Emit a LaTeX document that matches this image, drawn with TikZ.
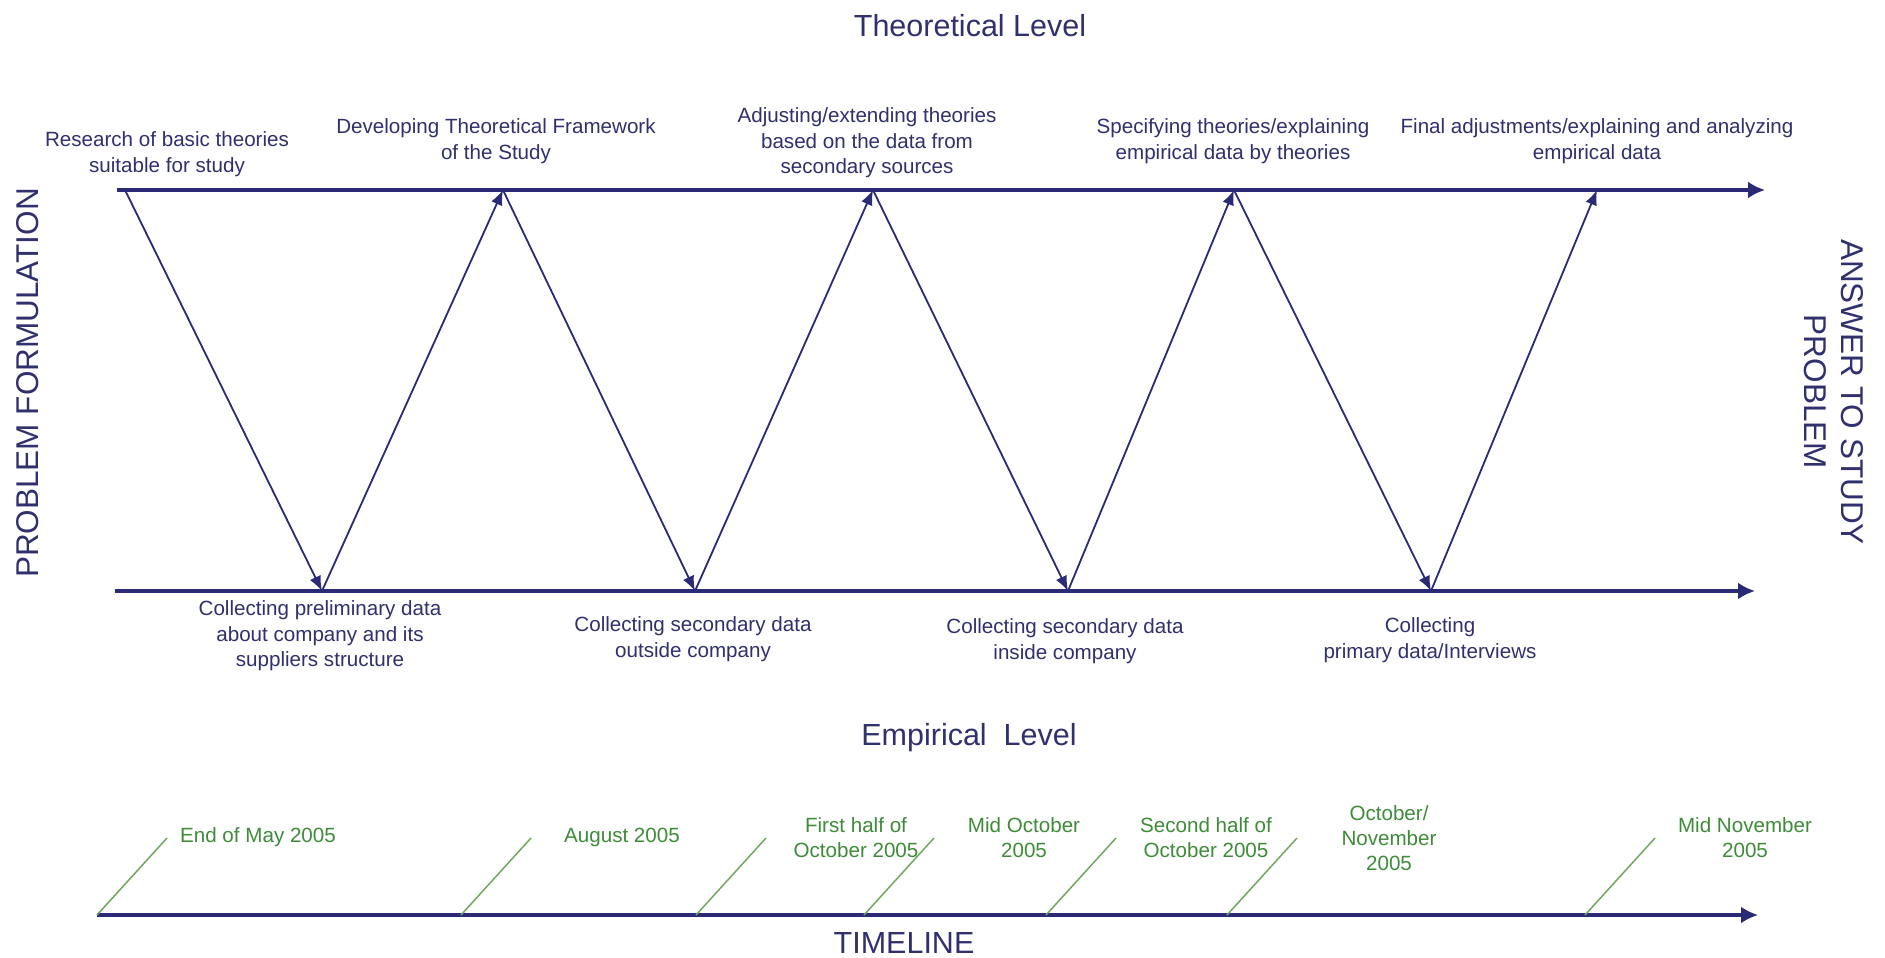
\documentclass[tikz,border=0pt]{standalone}
\usepackage{fontspec}
\setmainfont{Liberation Sans}
\usetikzlibrary{arrows.meta}
\definecolor{navy}{RGB}{42,42,118}
\definecolor{navytext}{RGB}{48,48,110}
\definecolor{leaf}{RGB}{62,140,58}
\definecolor{tick}{RGB}{112,168,92}
\tikzset{
  lbl/.style={inner sep=0pt, align=center, text=navytext,
    font=\fontsize{20.6}{25.5}\selectfont},
  datelbl/.style={inner sep=0pt, align=center, text=leaf,
    font=\fontsize{20.6}{25}\selectfont},
  heading/.style={inner sep=0pt, text=navytext,
    font=\fontsize{30.5}{36}\selectfont},
  sidelbl/.style={inner sep=0pt, align=center, text=navytext,
    font=\fontsize{31.5}{37}\selectfont},
  axis/.style={draw=navy, line width=3.2pt,
    -{Latex[length=17pt,width=17pt]}},
  zig/.style={draw=navy, line width=1.8pt,
    -{Latex[length=15pt,width=12pt]}},
  tickmark/.style={draw=tick, line width=1.5pt},
}
\begin{document}
\begin{tikzpicture}[x=1pt,y=-1pt]
\useasboundingbox[fill=white] (0,0) rectangle (1885,958);

% level headings and side captions
\node[heading] (theo) at (970,26) {Theoretical Level};
\node[heading] (emp) at (969,738) {Empirical\ \ Level};
\node[heading] (tl) at (904,943) {TIMELINE};
\node[sidelbl, rotate=90] (pf) at (28,383) {PROBLEM FORMULATION};
\node[sidelbl, rotate=-90] (ans) at (1834,392) {ANSWER TO STUDY\\PROBLEM};

% theoretical and empirical axes
\coordinate (topA) at (117,190);
\coordinate (topB) at (1765,190);
\coordinate (botA) at (115,591);
\coordinate (botB) at (1755,591);
\draw[axis] (topA) -- (topB);
\draw[axis] (botA) -- (botB);

% turning points of the research path
\coordinate (T0) at (125,190);
\coordinate (B1) at (322,591);
\coordinate (T1) at (503,190);
\coordinate (B2) at (695,591);
\coordinate (T2) at (873,190);
\coordinate (B3) at (1068,591);
\coordinate (T3) at (1234,190);
\coordinate (B4) at (1431,591);
\coordinate (T4) at (1597,190);

\draw[zig] (T0) -- (B1);
\draw[zig] (B1) -- (T1);
\draw[zig] (T1) -- (B2);
\draw[zig] (B2) -- (T2);
\draw[zig] (T2) -- (B3);
\draw[zig] (B3) -- (T3);
\draw[zig] (T3) -- (B4);
\draw[zig] (B4) -- (T4);

% theoretical steps
\node[lbl] (s1) at (167,154) {Research of basic theories\\suitable for study};
\node[lbl] (s2) at (496,141) {Developing Theoretical Framework\\of the Study};
\node[lbl] (s3) at (867,143) {Adjusting/extending theories\\based on the data from\\secondary sources};
\node[lbl] (s4) at (1233,141) {Specifying theories/explaining\\empirical data by theories};
\node[lbl] (s5) at (1597,141) {Final adjustments/explaining and analyzing\\empirical data};

% empirical steps
\node[lbl] (e1) at (320,636) {Collecting preliminary data\\about company and its\\suppliers structure};
\node[lbl] (e2) at (693,639) {Collecting secondary data\\outside company};
\node[lbl] (e3) at (1065,641) {Collecting secondary data\\inside company};
\node[lbl] (e4) at (1430,640) {Collecting\\primary data/Interviews};

% timeline with slanted date marks
\coordinate (tlA) at (97,915);
\coordinate (tlB) at (1758,915);
\draw[axis] (tlA) -- (tlB);

\foreach \i/\x in {1/97, 2/461, 3/696, 4/864, 5/1046, 6/1227, 7/1585}{
  \coordinate (k\i a) at (\x,915);
  \coordinate (k\i b) at (\x+70,838);
  \draw[tickmark] (k\i a) -- (k\i b);
}

\node[datelbl] (d1) at (258,837) {End of May 2005};
\node[datelbl] (d2) at (622,837) {August 2005};
\node[datelbl] (d3) at (856,838) {First half of\\October 2005};
\node[datelbl] (d4) at (1024,838) {Mid October\\2005};
\node[datelbl] (d5) at (1206,838) {Second half of\\October 2005};
\node[datelbl] (d6) at (1389,838) {October/\\November\\2005};
\node[datelbl] (d7) at (1745,838) {Mid November\\2005};
\end{tikzpicture}
\end{document}
